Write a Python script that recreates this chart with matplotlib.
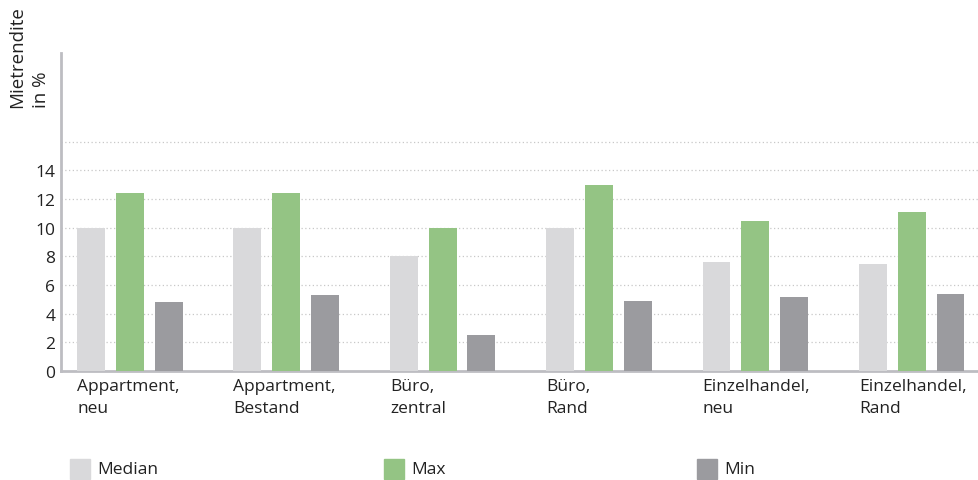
import matplotlib
matplotlib.use("Agg")
import matplotlib.pyplot as plt
import numpy as np
from matplotlib.patches import Rectangle

categories = ["Appartment,\nneu", "Appartment,\nBestand", "Büro,\nzentral",
              "Büro,\nRand", "Einzelhandel,\nneu", "Einzelhandel,\nRand"]
median_vals = [10.0, 10.0, 8.0, 10.0, 7.6, 7.5]
max_vals = [12.4, 12.4, 10.0, 13.0, 10.5, 11.1]
min_vals = [4.8, 5.3, 2.5, 4.9, 5.2, 5.4]
series_names = ["Median", "Max", "Min"]
yticks = [0, 2, 4, 6, 8, 10, 12, 14]

colors = ["#d9d9db", "#94c484", "#9b9b9f"]
font = "Open Sans"
plt.rcParams['font.family'] = [font, 'DejaVu Sans']

W, H = 979, 481
fig = plt.figure(figsize=(W / 100, H / 100), dpi=100)
ax = fig.add_axes([61 / W, (H - 372) / H, (W - 61) / W, (372 - 54) / H])

x = np.arange(len(categories))
step = 0.248
width = 0.178
for k, (vals, c) in enumerate(zip([median_vals, max_vals, min_vals], colors)):
    ax.bar(x + (k - 1) * step, vals, width=width, color=c, zorder=3)

ax.set_xlim(-0.44, 5.43)
ax.set_ylim(0, 22.2)
for g in range(2, 17, 2):
    ax.axhline(g, color="#c8c8c8", lw=0.9, ls=(0, (1, 2)), zorder=1)
ax.set_yticks(yticks)
ax.set_yticklabels([str(t) for t in yticks], fontsize=12.5, color="#222222")
ax.set_xticks([])
ax.tick_params(axis='y', length=0, pad=4)
for s in ["top", "right"]:
    ax.spines[s].set_visible(False)
for s in ["left", "bottom"]:
    ax.spines[s].set_color("#bdbdc2")
    ax.spines[s].set_linewidth(2)

for i, cat in enumerate(categories):
    ax.text(i - step - width / 2, -0.5, cat, ha="left", va="top",
            fontsize=12.5, color="#222222", linespacing=1.45,
            transform=ax.transData)

fig.text(29 / W, 1 - 108 / H, "Mietrendite\nin %", rotation=90,
         ha="center", va="bottom", multialignment="left",
         fontsize=13.5, color="#222222", linespacing=1.45)

leg_x = [70, 384, 697]
for lx, name, c in zip(leg_x, series_names, colors):
    fig.patches.append(Rectangle((lx / W, 1 - 480 / H), 20 / W, 20 / H,
                                 transform=fig.transFigure, color=c))
    fig.text((lx + 27) / W, 1 - 470 / H, name, ha="left", va="center",
             fontsize=12.5, color="#222222")

fig.savefig("out.png", dpi=100)
